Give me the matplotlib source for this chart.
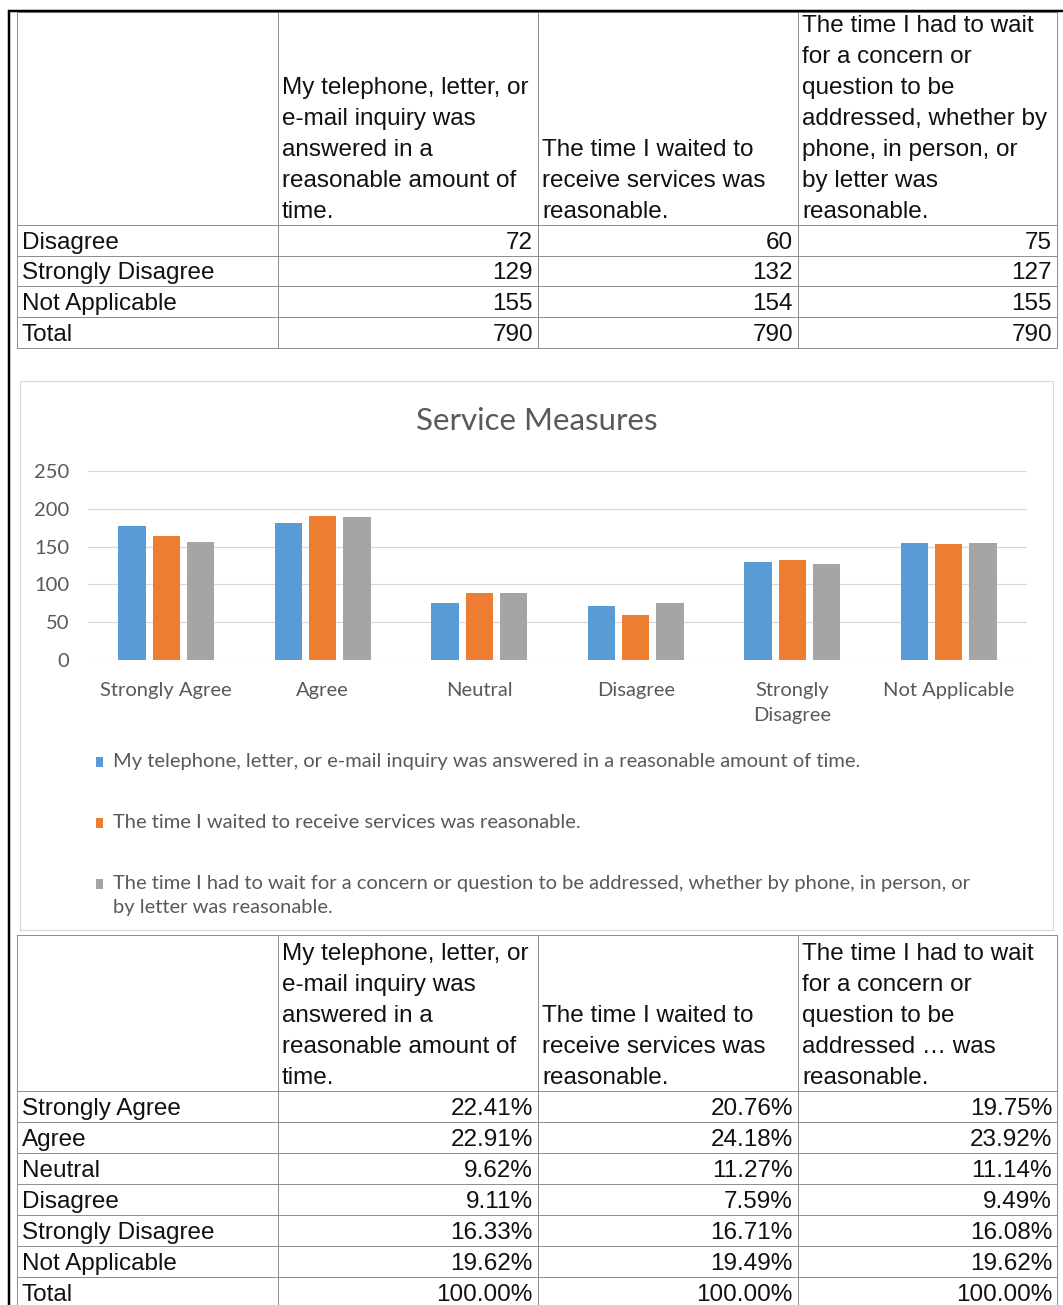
import textwrap

import matplotlib
matplotlib.use("Agg")
import matplotlib.pyplot as plt
import numpy as np
from matplotlib.patches import Rectangle

W, H = 1063, 1305

categories = ["Strongly Agree", "Agree", "Neutral", "Disagree",
              "Strongly Disagree", "Not Applicable"]
tick_labels = ["Strongly Agree", "Agree", "Neutral", "Disagree",
               "Strongly\nDisagree", "Not Applicable"]
series_names = [
    "My telephone, letter, or e-mail inquiry was answered in a reasonable amount of time.",
    "The time I waited to receive services was reasonable.",
    "The time I had to wait for a concern or question to be addressed, whether by phone, "
    "in person, or by letter was reasonable.",
]

# counts per category (bars + top table)
counts_inquiry = [177, 181, 76, 72, 129, 155]
counts_wait = [164, 191, 89, 60, 132, 154]
counts_concern = [156, 189, 88, 75, 127, 155]
totals = [790, 790, 790]

# percentages (bottom table)
pct_inquiry = [22.41, 22.91, 9.62, 9.11, 16.33, 19.62]
pct_wait = [20.76, 24.18, 11.27, 7.59, 16.71, 19.49]
pct_concern = [19.75, 23.92, 11.14, 9.49, 16.08, 19.62]
pct_total = [100.00, 100.00, 100.00]

# column headers, wrapped the way the sheet shows them
top_headers = [
    ["My telephone, letter, or", "e-mail inquiry was", "answered in a",
     "reasonable amount of", "time."],
    ["The time I waited to", "receive services was", "reasonable."],
    ["The time I had to wait", "for a concern or", "question to be",
     "addressed, whether by", "phone, in person, or", "by letter was", "reasonable."],
]
bottom_headers = [
    top_headers[0],
    top_headers[1],
    ["The time I had to wait", "for a concern or", "question to be",
     "addressed \u2026 was", "reasonable."],
]

colors = ["#5B9BD5", "#ED7D31", "#A5A5A5"]
GRID = "#909090"
TXT = "#595959"
PX = 0.72  # points per pixel at dpi 100

fig = plt.figure(figsize=(W / 100, H / 100), dpi=100)
ax0 = fig.add_axes([0, 0, 1, 1])
ax0.set_xlim(0, W)
ax0.set_ylim(H, 0)
ax0.axis("off")

col_x = [17, 278, 538, 798, 1057]
tfont = dict(family="Liberation Sans", fontsize=17.5, color="#111111")


def draw_table(top, header_bottom, row_h, bottom, headers, row_labels, columns):
    # horizontal rules
    ys = [header_bottom + row_h * k for k in range(len(row_labels) + 1)]
    ax0.plot([col_x[0], col_x[-1]], [top, top], color=GRID, lw=PX)
    for y in ys:
        if y <= bottom:
            ax0.plot([col_x[0], col_x[-1]], [y, y], color=GRID, lw=PX)
    for x in col_x:
        ax0.plot([x, x], [top, bottom], color=GRID, lw=PX)
    # header text, bottom aligned
    for j, lines in enumerate(headers):
        for k, line in enumerate(reversed(lines)):
            ax0.text(col_x[j + 1] + 4, header_bottom - 7 - 31 * k, line,
                     ha="left", va="baseline", **tfont)
    # body
    for i, lab in enumerate(row_labels):
        yb = ys[i + 1] - 7
        ax0.text(22, yb, lab, ha="left", va="baseline", **tfont)
        for j, col in enumerate(columns):
            ax0.text(col_x[j + 2] - 5, yb, col[i], ha="right", va="baseline", **tfont)


# top table: last three categories + total
top_rows = categories[3:] + ["Total"]
top_cols = [[str(v) for v in c[3:]] + [str(t)]
            for c, t in zip([counts_inquiry, counts_wait, counts_concern], totals)]
draw_table(12, 225, 30.67, 348, top_headers, top_rows, top_cols)

# bottom table: percentages
bot_rows = categories + ["Total"]
bot_cols = [[f"{v:.2f}%" for v in c] + [f"{t:.2f}%"]
            for c, t in zip([pct_inquiry, pct_wait, pct_concern], pct_total)]
draw_table(935, 1091, 31, H + 5, bottom_headers, bot_rows, bot_cols)

# black frame of the screenshot
ax0.plot([8.5, 8.5], [10, H], color="black", lw=2.5 * PX, solid_capstyle="butt")
ax0.plot([8, W], [10.5, 10.5], color="black", lw=2.5 * PX, solid_capstyle="butt")

# chart box
ax0.add_patch(Rectangle((20, 381), 1033, 549, facecolor="white",
                        edgecolor="#d9d9d9", lw=1.2 * PX))
ax0.text(537, 421, "Service Measures", ha="center", va="center",
         family="Lato", fontsize=22.5, color=TXT)

# bar chart
axc = fig.add_axes([88 / W, 1 - 660 / H, (1027 - 88) / W, (660 - 471) / H])
axc.patch.set_alpha(0)
x = np.arange(len(categories))
bw, step = 0.175, 0.22
for i, (vals, c) in enumerate(zip([counts_inquiry, counts_wait, counts_concern], colors)):
    axc.bar(x + (i - 1) * step, vals, bw, color=c, zorder=3)
axc.set_xlim(-0.5, len(categories) - 0.5)
axc.set_ylim(0, 250)
axc.set_yticks(range(0, 251, 50))
axc.set_xticks(x)
axc.set_xticklabels(tick_labels, family="Lato", fontsize=14.5, color=TXT, linespacing=1.55)
for lab in axc.get_yticklabels():
    lab.set_family("Lato")
    lab.set_fontsize(14.5)
    lab.set_color(TXT)
axc.yaxis.grid(True, color="#d9d9d9", lw=1.2 * PX)
axc.set_axisbelow(True)
for s in axc.spines.values():
    s.set_visible(False)
axc.tick_params(axis="x", length=0, pad=16)
axc.tick_params(axis="y", length=0, pad=13.5)

# legend, one entry per row
legend_y = [762, 823, 884]
for name, c, y in zip(series_names, colors, legend_y):
    ax0.add_patch(Rectangle((96, y - 5), 7, 10, facecolor=c, edgecolor="none"))
    for k, line in enumerate(textwrap.wrap(name, 98)):
        ax0.text(113, y + 23 * k, line, ha="left", va="center",
                 family="Lato", fontsize=14.5, color=TXT)

fig.savefig("out.png", dpi=100)
